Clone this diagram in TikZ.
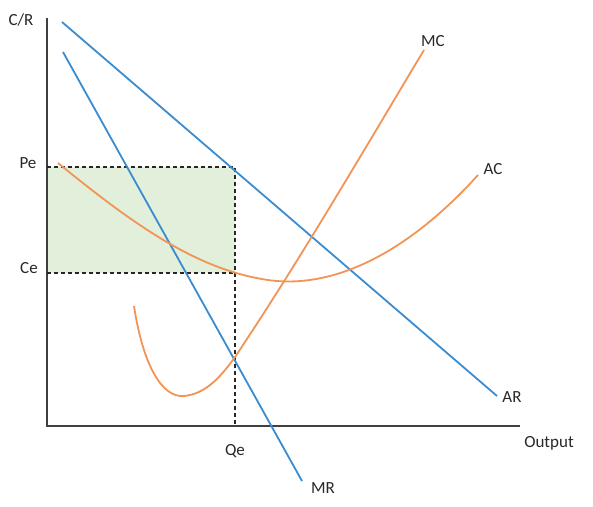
\documentclass[tikz,border=0pt]{standalone}
\usepackage{fontspec}
\setmainfont{Carlito}
\definecolor{curveblue}{RGB}{58,140,208}
\definecolor{curveorange}{RGB}{242,148,86}
\definecolor{areagreen}{RGB}{226,239,218}
\definecolor{axisgray}{RGB}{64,64,64}
\definecolor{labelgray}{RGB}{40,40,40}
\begin{document}
\begin{tikzpicture}[x=1pt,y=-1pt,
  axisline/.style={draw=axisgray,line width=2pt},
  bluecurve/.style={draw=curveblue,line width=1.8pt},
  orangecurve/.style={draw=curveorange,line width=1.8pt},
  guideline/.style={draw=black!85,line width=1.6pt,dash pattern=on 4pt off 3pt},
  lbl/.style={font=\fontsize{17}{19}\selectfont,text=labelgray,inner sep=0pt,anchor=base}]
\useasboundingbox (0,0) rectangle (593,506);
% key points
\coordinate (O) at (47,426);
\coordinate (Ytop) at (47,18);
\coordinate (Xend) at (520,426);
\coordinate (PeL) at (47,167);
\coordinate (CeL) at (47,273);
\coordinate (E) at (235,167);
\coordinate (C) at (235,273);
\coordinate (Q) at (235,426);
% shaded profit area
\fill[areagreen] (PeL) rectangle (C);
% axes
\draw[axisline] (Ytop) -- (O) -- (Xend);
% dashed guides
\draw[guideline] (PeL) -- (E) -- (Q);
\draw[guideline] (CeL) -- (C);
% AR and MR
\coordinate (ARs) at (62,22);
\coordinate (ARe) at (497,396);
\coordinate (MRs) at (63,52);
\coordinate (MRe) at (302,481);
\draw[bluecurve] (ARs) -- (ARe);
\draw[bluecurve] (MRs) -- (MRe);
% AC
\coordinate (ACs) at (58,163);
\coordinate (ACm) at (268,280);
\coordinate (ACe) at (478,175);
\draw[orangecurve] (ACs) .. controls (140,230) and (200,270) .. (ACm)
  .. controls (340,290.3) and (415,245) .. (ACe);
% MC
\coordinate (MCs) at (134,306);
\coordinate (MCm) at (184,396);
\coordinate (MCq) at (235,357);
\coordinate (MCe) at (424,50);
\draw[orangecurve] (MCs) .. controls (143,365) and (162,398) .. (MCm)
  .. controls (205,394) and (220,378) .. (MCq)
  .. controls (300,260) and (370,140) .. (MCe);
% labels
\node[lbl] (lCR) at (21,25) {C/R};
\node[lbl] (lPe) at (28,168) {Pe};
\node[lbl] (lCe) at (29,273) {Ce};
\node[lbl] (lQe) at (235,455) {Qe};
\node[lbl] (lMR) at (323,493) {MR};
\node[lbl] (lMC) at (433,46) {MC};
\node[lbl] (lAC) at (493,174) {AC};
\node[lbl] (lAR) at (512,402) {AR};
\node[lbl] (lOut) at (549,447) {Output};
\end{tikzpicture}
\end{document}
